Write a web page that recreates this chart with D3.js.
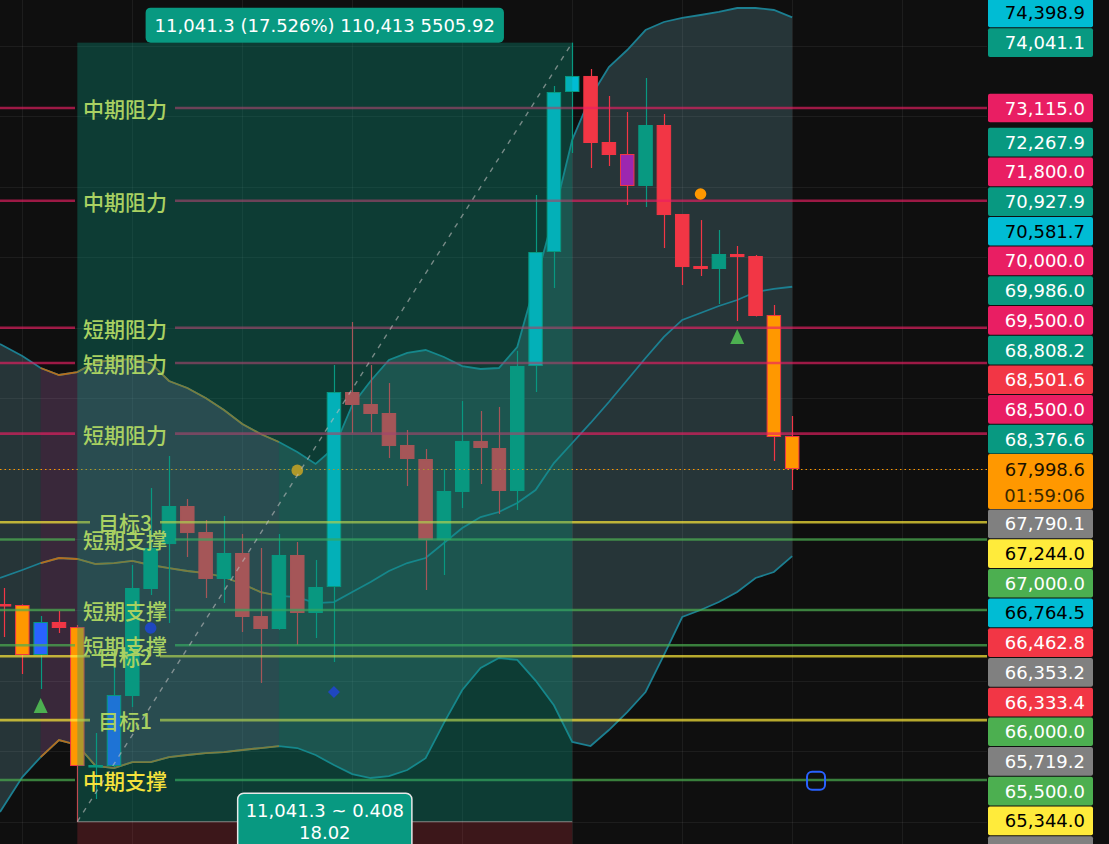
<!DOCTYPE html>
<html><head><meta charset="utf-8">
<script src="https://cdn.jsdelivr.net/npm/d3@7"></script>
<style>html,body{margin:0;padding:0;background:#0f0f0f;overflow:hidden}</style>
</head><body><svg id="c" width="1109" height="844"></svg>
<script>
// ---------------- DATA ----------------
const candleOpen  = [66085,66071,65362,65830,65759,63775,63789,64781,66298,66935,67474,67105,66440,66808,65915,65731,66780,65958,66326,69090,68920,68792,68339,68140,66992,67673,68396,68296,67687,69458,71074,73342,73569,72633,72463,72010,72874,71613,70876,70833,71046,71017,70181,68466];
const candleHigh  = [66312,66080,65915,65986,65788,64257,65220,66638,67729,68183,67573,67276,67333,67077,66879,67077,66964,66709,69472,70082,69472,69217,68551,68282,67999,68962,68821,68878,69673,71882,73427,74041.1,73668,73285,73058,73540,73030,71613,71527,71386,71159,71032,70323,68750];
const candleLow   = [65617,65093,64880,65674,62999.8,63321,63775,64625,66213,65816,66751,66170,66099,65688,64966,65720,65504,65603,65263,68509,68523,68154,67757,66284,66496,67446,67786,67361,67418,69090,70564,72477,72265,72293,71740,71712,71131,70606,70734,70337,70096,70160,68112,67701];
const candleClose = [66057,65362,65830,65745,63789,63803,64795,66312,66879,67474,67091,66440,66808,65901,65731,66780,65958,66326,69090,68906,68778,68324,68140,66992,67687,68396,68296,67687,69458,71074,73342,73569,72619,72449,72010,72874,71598,70861,70833,71046,71003,70167,68452,67998.6];
// signal category painted on some candles
const candleSignal = ['', 'orange','blue','', 'orange','', 'blue','','','','','','','','','','','','cyan','','','','','','','','','','','cyan','cyan','cyan','','','purple','','','','','','','','orange','orange'];

const bbUpper  = [69770,69600,69430,69331,69373,69515,69543,69557,69501,69246,69147,69005,68835,68636,68495,68381,68240,68070,68296,68906,69246,69543,69643,69685,69586,69458,69416,69430,69728,70649,71599,72663,73271,73696,73937,74220,74334,74391,74433,74476,74532,74532,74504,74398.9];
const bbMiddle = [66454,66567,66666,66737,66723,66652,66666,66695,66638,66595,66553,66524,66468,66369,66255,66199,66184,66099,66113,66255,66397,66553,66666,66737,66949,67162,67318,67389,67517,67701,68083,68367,68651,68948,69260,69572,69870,70111,70210,70309,70394,70507,70550,70581.7];
const bbLower  = [63137,63633,63916,64157,64087,63789,63760,63845,63845,63916,63945,63973,63987,64016,64044,64072,64044,63945,63803,63675,63619,63647,63732,63900,64400,64866,65178,65320,65292,65000,64650,64130,64072,64299,64554,64838,65362,65901,66000,66113,66255,66454,66539,66764.5];
const bbWarnStart = 2, bbWarnEnd = 15;   // bars where the band is in "warning" state

const levelPrices = [73115, 71800, 70000, 69500, 68500, 67244, 67000, 66000, 65500, 65344, 64440, 63590];
const levelNames  = ['中期阻力','中期阻力','短期阻力','短期阻力','短期阻力','目标3','短期支撑','短期支撑','短期支撑','目标2','目标1','中期支撑'];
const levelKinds  = ['res','res','res','res','res','tgt','sup','sup','sup','tgt','tgt','major'];

const axisPrices = [74398.9,74041.1,73115.0,72267.9,71800.0,70927.9,70581.7,70000.0,69986.0,69500.0,68808.2,68501.6,68500.0,68376.6,67998.6,67790.1,67244.0,67000.0,66764.5,66462.8,66353.2,66333.4,66000.0,65719.2,65500.0,65344.0,62999.8];
const axisKinds  = ['bb','tl','res','tl','res','tl','bb','res','tl','res','tl','ma','res','tl','cur','gray','tgt','sup','bb','ma','gray','ma','sup','gray','sup','tgt','gray'];
const countdown = '01:59:06';

const gridPrices = [63000,64000,65000,66000,67000,68000,69000,70000,71000,72000,73000,74000];
const gridBars = [1,7,13,19,25,31,37,43,49];

const lastPrice = 67998.6;
const measureFrom = {bar: 4, price: 62999.8}, measureTo = {bar: 31, price: 74041.1};
const measureTop = '11,041.3 (17.526%) 110,413 5505.92';
const measureBottom = ['11,041.3 ~ 0.408', '18.02'];

const dotSignals = [{bar:16, price:67979, kind:'orange'}, {bar:38, price:71896, kind:'orange'}, {bar:8, price:65745, kind:'blue'}];
const diamondSignals = [{bar:18, price:64838}];
const triangleSignals = [{bar:2, price:64640}, {bar:40, price:69870}];
const squareMarks = [{bar:44.3, price:63580}];

// ---------------- CHART ----------------
const W = 1109, H = 844, plotRight = 987;
const svg = d3.select('#c');
const x = d3.scaleLinear().domain([0, 43]).range([4, 792.2]);
const y = d3.scaleLinear().domain([67998.6, 73115]).range([469, 108]);
const step = x(1) - x(0);
const bodyW = step * 0.79;
const fmt = d3.format(',.1f');
const C = {bull:'#089981', bear:'#f23645', orange:'#ff9800', blue:'#2962ff', cyan:'#00bcd4', purple:'#9c27b0'};

svg.append('rect').attr('width', W).attr('height', H).attr('fill', '#0f0f0f');
svg.append('defs').append('clipPath').attr('id','plot').append('rect').attr('width', plotRight).attr('height', H);
const plot = svg.append('g').attr('clip-path','url(#plot)');
const gBB = plot.append('g'), gGrid = plot.append('g'), gBBL = plot.append('g'),
      gCandles = plot.append('g'), gLevels = plot.append('g'), gMarks = plot.append('g'),
      gBox = plot.append('g'), gText = plot.append('g');
const gAxis = svg.append('g');

const idx = d3.range(candleOpen.length);
const warnIdx = d3.range(bbWarnStart, bbWarnEnd + 1);
const bx = i => i === 0 ? 0 : x(i);
const area = d3.area().x(bx).y0(i => y(bbLower[i])).y1(i => y(bbUpper[i]));
gBB.append('path').datum(idx).attr('d', area).attr('fill', '#263538');
gBB.append('path').datum(warnIdx).attr('d', area).attr('fill', '#39283a');

// grid
gGrid.selectAll('.hg').data(gridPrices).join('line')
  .attr('x1',0).attr('x2',plotRight).attr('y1',d=>Math.round(y(d))+0.5).attr('y2',d=>Math.round(y(d))+0.5)
  .attr('stroke','rgba(255,255,255,0.06)');
gGrid.selectAll('.vg').data(gridBars).join('line')
  .attr('y1',0).attr('y2',H).attr('x1',d=>Math.round(x(d))+0.5).attr('x2',d=>Math.round(x(d))+0.5)
  .attr('stroke','rgba(255,255,255,0.06)');

// band lines
[bbUpper, bbMiddle, bbLower].forEach(arr => {
  const ln = d3.line().x(bx).y(i => y(arr[i]));
  gBBL.append('path').datum(idx).attr('d', ln).attr('fill','none').attr('stroke','#1c7f91').attr('stroke-width',1.8);
  gBBL.append('path').datum(warnIdx).attr('d', ln).attr('fill','none').attr('stroke','#b46e1e').attr('stroke-width',1.8);
});

// candles
idx.forEach(i => {
  const o = candleOpen[i], c = candleClose[i], hi = candleHigh[i], lo = candleLow[i];
  const up = c >= o;
  const dir = up ? C.bull : C.bear;
  const fill = candleSignal[i] ? C[candleSignal[i]] : dir;
  const xc = x(i);
  gCandles.append('line').attr('x1', Math.round(xc)+0.5).attr('x2', Math.round(xc)+0.5)
    .attr('y1', y(hi)).attr('y2', y(lo)).attr('stroke', dir).attr('stroke-width', 1.2);
  const top = y(Math.max(o,c)), bot = y(Math.min(o,c));
  gCandles.append('rect').attr('x', xc - bodyW/2 + 0.5).attr('width', bodyW - 1)
    .attr('y', top + 0.5).attr('height', Math.max(bot - top - 1, 1.5))
    .attr('fill', fill).attr('stroke', dir).attr('stroke-width', 1);
});

// levels
const lvlLine = {res:'rgba(233,30,99,0.65)', tgt:'rgba(255,235,59,0.7)', sup:'rgba(76,175,80,0.7)', major:'rgba(76,175,80,0.7)'};
const lvlText = {res:'#a9d162', tgt:'#a9d162', sup:'#a9d162', major:'#f5e23c'};
const textCx = 125;
levelPrices.forEach((p, i) => {
  const yy = y(p);
  const t = gText.append('text').attr('x', textCx).attr('y', yy).attr('text-anchor','middle')
    .attr('dominant-baseline','central').attr('font-family','"Noto Sans CJK SC", sans-serif')
    .attr('font-size', 21).attr('font-weight', 500).attr('fill', lvlText[levelKinds[i]]).text(levelNames[i]);
  const w = t.node().getComputedTextLength();
  const gap = w/2 + 8;
  [[0, textCx - gap], [textCx + gap, plotRight + 1]].forEach(s => {
    gLevels.append('line').attr('x1', s[0]).attr('x2', s[1]).attr('y1', yy).attr('y2', yy)
      .attr('stroke', lvlLine[levelKinds[i]]).attr('stroke-width', 2.6);
  });
});
// last price dotted line
gLevels.append('line').attr('x1',0).attr('x2',plotRight).attr('y1',Math.round(y(lastPrice))+0.5).attr('y2',Math.round(y(lastPrice))+0.5)
  .attr('stroke','#ff9800').attr('stroke-width',1).attr('stroke-dasharray','1.5,3');

// markers
const dotColor = {orange:'#ff9800', blue:'#2a20e0'};
gMarks.selectAll('.dot').data(dotSignals).join('circle')
  .attr('cx', d => x(d.bar)).attr('cy', d => y(d.price)).attr('r', 5.8).attr('fill', d => dotColor[d.kind]);
gMarks.selectAll('.dia').data(diamondSignals).join('path')
  .attr('d', d => { const cx = x(d.bar), cy = y(d.price); return `M${cx},${cy-6}L${cx+6},${cy}L${cx},${cy+6}L${cx-6},${cy}Z`; })
  .attr('fill','#2a20e0');
gMarks.selectAll('.tri').data(triangleSignals).join('path')
  .attr('d', d => { const cx = x(d.bar), cy = y(d.price); return `M${cx},${cy-8}L${cx+7},${cy+7}L${cx-7},${cy+7}Z`; })
  .attr('fill','#4caf50');

// measurement box
const bx0 = x(measureFrom.bar), bx1 = x(measureTo.bar);
const by0 = y(measureTo.price), by1 = y(measureFrom.price);
gBox.append('rect').attr('x', bx0).attr('width', bx1 - bx0).attr('y', by0).attr('height', by1 - by0)
  .attr('fill','rgba(8,153,129,0.33)');
gBox.append('rect').attr('x', bx0).attr('width', bx1 - bx0).attr('y', by1).attr('height', H - by1)
  .attr('fill','rgba(242,54,69,0.2)');
gBox.append('line').attr('x1', bx0).attr('x2', bx1).attr('y1', by1).attr('y2', by1)
  .attr('stroke','rgba(200,200,200,0.55)').attr('stroke-width',1);
gBox.append('line').attr('x1', bx0).attr('y1', by1).attr('x2', bx1).attr('y2', by0)
  .attr('stroke','rgba(190,190,190,0.6)').attr('stroke-width',1.4).attr('stroke-dasharray','5,6');

// square mark
gBox.selectAll('.sq').data(squareMarks).join('rect')
  .attr('x', d => x(d.bar) - 9).attr('y', d => y(d.price) - 9).attr('width', 18).attr('height', 18)
  .attr('rx', 5).attr('fill','none').attr('stroke','#2962ff').attr('stroke-width',2);

// measure labels
const mcx = (bx0 + bx1) / 2;
const tTop = gText.append('text').attr('x', mcx).attr('y', by0 - 17).attr('text-anchor','middle')
  .attr('dominant-baseline','central').attr('font-family','"DejaVu Sans", sans-serif').attr('font-size',18)
  .attr('fill','#fff').text(measureTop);
const wTop = tTop.node().getComputedTextLength();
gText.insert('rect', () => tTop.node()).attr('x', mcx - wTop/2 - 9).attr('width', wTop + 18)
  .attr('y', by0 - 35).attr('height', 35).attr('rx', 5).attr('fill','#089981');

const gB = gText.append('g');
const bt = measureBottom.map((s, k) => gB.append('text').attr('x', mcx).attr('y', by1 - 11 + k*22)
  .attr('text-anchor','middle').attr('dominant-baseline','central').attr('font-family','"DejaVu Sans", sans-serif')
  .attr('font-size',18).attr('fill','#fff').text(s));
const wBot = d3.max(bt, t => t.node().getComputedTextLength());
gB.insert('rect', ':first-child').attr('x', mcx - wBot/2 - 8).attr('width', wBot + 16)
  .attr('y', by1 - 28.5).attr('height', 70).attr('rx', 6).attr('fill','#089981')
  .attr('stroke','#e8e8e8').attr('stroke-width',1.5);

// ---------------- PRICE AXIS LABELS ----------------
const kindFill = {bb:'#00bcd4', tl:'#089981', res:'#e91e63', ma:'#f23645', cur:'#ff9800', gray:'#808080', tgt:'#ffeb3b', sup:'#4caf50'};
const kindText = {bb:'#000', tl:'#fff', res:'#fff', ma:'#fff', cur:'#1a1200', gray:'#fff', tgt:'#000', sup:'#fff'};
const labels = axisPrices.map((p, i) => ({p, kind: axisKinds[i], ideal: y(p)}));
const hL = 29.7;
const a = labels.findIndex(d => d.kind === 'cur');
const curTop = labels[a].ideal - 15, curBot = labels[a].ideal + 40;
let edge = curTop;
for (let i = a - 1; i >= 0; i--) { const c = Math.min(labels[i].ideal, edge - hL/2); labels[i].cy = c; edge = c - hL/2; }
edge = curBot;
for (let i = a + 1; i < labels.length; i++) { const c = Math.max(labels[i].ideal, edge + hL/2); labels[i].cy = c; edge = c + hL/2; }
const lx = 988, lw = 105;
labels.forEach((d, i) => {
  if (i === a) {
    gAxis.append('rect').attr('x', lx).attr('width', lw).attr('y', curTop).attr('height', curBot - curTop).attr('rx',2).attr('fill', kindFill.cur);
    gAxis.append('text').attr('x', lx + 97).attr('y', d.ideal).attr('text-anchor','end').attr('dominant-baseline','central')
      .attr('font-family','"DejaVu Sans", sans-serif').attr('font-size',18).attr('fill', kindText.cur).text(fmt(d.p));
    gAxis.append('text').attr('x', lx + 97).attr('y', d.ideal + 26).attr('text-anchor','end').attr('dominant-baseline','central')
      .attr('font-family','"DejaVu Sans", sans-serif').attr('font-size',18).attr('fill', '#3a2800').text(countdown);
  } else {
    gAxis.append('rect').attr('x', lx).attr('width', lw).attr('y', d.cy - hL/2 + 0.5).attr('height', hL - 1).attr('rx',2).attr('fill', kindFill[d.kind]);
    gAxis.append('text').attr('x', lx + 97).attr('y', d.cy).attr('text-anchor','end').attr('dominant-baseline','central')
      .attr('font-family','"DejaVu Sans", sans-serif').attr('font-size',18).attr('fill', kindText[d.kind]).text(fmt(d.p));
  }
});
</script></body></html>
